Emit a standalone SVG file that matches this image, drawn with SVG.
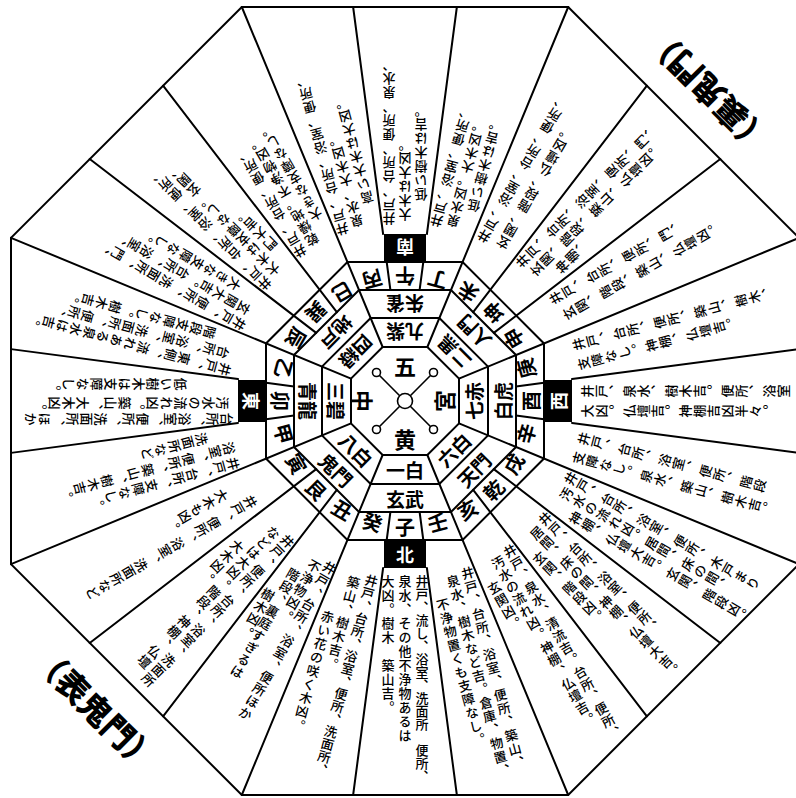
<svg xmlns="http://www.w3.org/2000/svg" width="796" height="798" viewBox="0 0 796 798">
<style>
.ln{stroke:#000;stroke-width:2;fill:none;stroke-linecap:round}
.thin{stroke:#000;stroke-width:1.6;fill:none}
.lb{font-family:"Noto Sans CJK JP","Noto Sans CJK SC",sans-serif;font-weight:bold;font-size:19px;text-anchor:middle;dominant-baseline:central;fill:#000}
.mt{font-size:20px}
.bx{fill:#000}
.wt{fill:#fff;font-size:18px}
.vt{font-family:"Noto Sans CJK JP","Noto Sans CJK SC",sans-serif;font-weight:500;font-size:13px;writing-mode:vertical-rl;fill:#000;letter-spacing:1px}
.tight{letter-spacing:0}
.hd{font-family:"Noto Sans CJK JP","Noto Sans CJK SC",sans-serif;font-weight:900;font-size:32px;text-anchor:middle;dominant-baseline:central;fill:#000}
</style>
<rect width="796" height="798" fill="#fff"/>
<g id="connectors" transform="translate(405,401)">
<polygon class="ln" points="-163.2,-394 163.2,-394 394,-163.2 394,163.2 163.2,394 -163.2,394 -394,163.2 -394,-163.2"/>
<polygon class="ln" points="-57.58,-139 57.58,-139 139,-57.58 139,57.58 57.58,139 -57.58,139 -139,57.58 -139,-57.58"/>
<polygon class="ln" points="-45.98,-111 45.98,-111 111,-45.98 111,45.98 45.98,111 -45.98,111 -111,45.98 -111,-45.98"/>
<polygon class="ln" points="-34.38,-83 34.38,-83 83,-34.38 83,34.38 34.38,83 -34.38,83 -83,34.38 -83,-34.38"/>
<polygon class="ln" points="-22.37,-54 22.37,-54 54,-22.37 54,22.37 22.37,54 -22.37,54 -54,22.37 -54,-22.37"/>
<path class="ln" d="M-22.37,-54L-163.2,-394M22.37,-54L163.2,-394M54,-22.37L394,-163.2M54,22.37L394,163.2M22.37,54L163.2,394M-22.37,54L-163.2,394M-54,22.37L-394,163.2M-54,-22.37L-394,-163.2"/>
<g transform="rotate(0)"><path class="ln" d="M14.61,111L18.3,139M21.9,167L51.87,394M-14.61,111L-18.3,139M-21.9,167L-51.87,394"/></g>
<g transform="rotate(90)"><path class="ln" d="M14.61,111L18.3,139M21.9,167L51.87,394M-14.61,111L-18.3,139M-21.9,167L-51.87,394"/></g>
<g transform="rotate(180)"><path class="ln" d="M14.61,111L18.3,139M21.9,167L51.87,394M-14.61,111L-18.3,139M-21.9,167L-51.87,394"/></g>
<g transform="rotate(270)"><path class="ln" d="M14.61,111L18.3,139M21.9,167L51.87,394M-14.61,111L-18.3,139M-21.9,167L-51.87,394"/></g>
<g transform="rotate(45)"><path class="ln" d="M14.61,111L51.87,394M-14.61,111L-51.87,394"/></g>
<g transform="rotate(135)"><path class="ln" d="M14.61,111L51.87,394M-14.61,111L-51.87,394"/></g>
<g transform="rotate(225)"><path class="ln" d="M14.61,111L51.87,394M-14.61,111L-51.87,394"/></g>
<g transform="rotate(315)"><path class="ln" d="M14.61,111L51.87,394M-14.61,111L-51.87,394"/></g>
</g>
<g id="center" transform="translate(405,401)">
<circle class="thin" r="7.5"/>
<circle class="thin" cx="-28.5" cy="-28.5" r="4"/><circle class="thin" cx="28.5" cy="-28.5" r="4"/>
<circle class="thin" cx="-28.5" cy="28.5" r="4"/><circle class="thin" cx="28.5" cy="28.5" r="4"/>
<path class="thin" d="M-5.3,-5.3L-25.7,-25.7M5.3,-5.3L25.7,-25.7M-5.3,5.3L-25.7,25.7M5.3,5.3L25.7,25.7"/>
<text class="lb" style="font-size:22px" x="0" y="-36">五</text>
<text class="lb" style="font-size:22px" x="0" y="37">黄</text>
<text class="lb" style="font-size:22px" transform="translate(-41,0) rotate(90)">中</text>
<text class="lb" style="font-size:22px" transform="translate(38,0) rotate(-90)">宮</text>
</g>
<g id="kyusei" transform="translate(405,401)">
<text class="lb" transform="rotate(0) translate(0,68.5)">一白</text>
<text class="lb" transform="rotate(45) translate(0,68.5)">八白</text>
<text class="lb" transform="rotate(90) translate(0,68.5)">三碧</text>
<text class="lb" transform="rotate(135) translate(0,68.5)">四緑</text>
<text class="lb" transform="rotate(180) translate(0,68.5)">九紫</text>
<text class="lb" transform="rotate(225) translate(0,68.5)">二黒</text>
<text class="lb" transform="rotate(270) translate(0,68.5)">七赤</text>
<text class="lb" transform="rotate(315) translate(0,68.5)">六白</text>
</g>
<g id="shin" transform="translate(405,401)">
<text class="lb" transform="rotate(0) translate(0,97)">玄武</text>
<text class="lb" transform="rotate(45) translate(0,97)">鬼門</text>
<text class="lb" transform="rotate(90) translate(0,97)">青龍</text>
<text class="lb" transform="rotate(135) translate(0,97)">地戸</text>
<text class="lb" transform="rotate(180) translate(0,97)">朱雀</text>
<text class="lb" transform="rotate(225) translate(0,97)">人門</text>
<text class="lb" transform="rotate(270) translate(0,97)">白虎</text>
<text class="lb" transform="rotate(315) translate(0,97)">天門</text>
</g>
<g id="mountains" transform="translate(405,401)">
<text class="lb mt" transform="rotate(0) translate(0,125)">子</text>
<text class="lb mt" transform="rotate(15) translate(0,125)">癸</text>
<text class="lb mt" transform="rotate(30) translate(0,125)">丑</text>
<text class="lb mt" transform="rotate(45) translate(0,125)">艮</text>
<text class="lb mt" transform="rotate(60) translate(0,125)">寅</text>
<text class="lb mt" transform="rotate(75) translate(0,125)">甲</text>
<text class="lb mt" transform="rotate(90) translate(0,125)">卯</text>
<text class="lb mt" transform="rotate(105) translate(0,125)">乙</text>
<text class="lb mt" transform="rotate(120) translate(0,125)">辰</text>
<text class="lb mt" transform="rotate(135) translate(0,125)">巽</text>
<text class="lb mt" transform="rotate(150) translate(0,125)">巳</text>
<text class="lb mt" transform="rotate(165) translate(0,125)">丙</text>
<text class="lb mt" transform="rotate(180) translate(0,125)">午</text>
<text class="lb mt" transform="rotate(195) translate(0,125)">丁</text>
<text class="lb mt" transform="rotate(210) translate(0,125)">未</text>
<text class="lb mt" transform="rotate(225) translate(0,125)">坤</text>
<text class="lb mt" transform="rotate(240) translate(0,125)">申</text>
<text class="lb mt" transform="rotate(255) translate(0,125)">庚</text>
<text class="lb mt" transform="rotate(270) translate(0,125)">酉</text>
<text class="lb mt" transform="rotate(285) translate(0,125)">辛</text>
<text class="lb mt" transform="rotate(300) translate(0,125)">戌</text>
<text class="lb mt" transform="rotate(315) translate(0,125)">乾</text>
<text class="lb mt" transform="rotate(330) translate(0,125)">亥</text>
<text class="lb mt" transform="rotate(345) translate(0,125)">壬</text>
</g>
<g id="dir-kita" transform="translate(405,401) rotate(0)"><rect class="bx" x="-21" y="139" width="42" height="28"/><text class="lb wt" x="0" y="153">北</text></g>
<g id="dir-higashi" transform="translate(405,401) rotate(90)"><rect class="bx" x="-21" y="139" width="42" height="28"/><text class="lb wt" x="0" y="153">東</text></g>
<g id="dir-minami" transform="translate(405,401) rotate(180)"><rect class="bx" x="-21" y="139" width="42" height="28"/><text class="lb wt" x="0" y="153">南</text></g>
<g id="dir-nishi" transform="translate(405,401) rotate(270)"><rect class="bx" x="-21" y="139" width="42" height="28"/><text class="lb wt" x="0" y="153">西</text></g>

<g id="s-ne" transform="translate(405,401) rotate(0)">
<text class="vt tight" x="17" y="174">井戸、流し、浴室、洗面所　便所、</text>
<text class="vt" x="0" y="174">泉水、その他不浄物あるは</text>
<text class="vt" x="-17" y="174">大凶。樹木　築山吉。</text>
</g>
<g id="s-mizunoto" transform="translate(405,401) rotate(15)">
<text class="vt tight" x="14" y="176">井戸、台所、浴室、便所、洗面所、</text>
<text class="vt" x="-3" y="182">築山、樹木吉。</text>
<text class="vt" x="-19" y="222">赤い花の咲く木凶。</text>
</g>
<g id="s-ushi" transform="translate(405,401) rotate(30)">
<text class="vt" x="18" y="176">井戸、台所、浴室、便所ほか</text>
<text class="vt" x="4" y="182">不浄物凶。</text>
<text class="vt" x="-10" y="200">階段、裏庭すぎるは</text>
<text class="vt" x="-22" y="230">樹木凶。</text>
</g>
<g id="s-ushitora" transform="translate(405,401) rotate(45)">
<text class="vt" x="16" y="176">井戸、便所、台所、浴室、洗面所</text>
<text class="vt" x="0" y="180">などは大凶。階段、神棚、仏壇</text>
<text class="vt" x="-16" y="215">大木凶。</text>
</g>
<g id="s-tora" transform="translate(405,401) rotate(60)">
<text class="vt" x="10" y="178">井戸、便所、浴室、洗面所など</text>
<text class="vt" x="-10" y="200">大木も凶。</text>
</g>
<g id="s-kinoe" transform="translate(405,401) rotate(75)">
<text class="vt" x="16" y="176">井戸、台所、支障なし。</text>
<text class="vt" x="0" y="176">浴室、便所、築山、樹木吉。</text>
<text class="vt" x="-16" y="200">洗面所など</text>
</g>
<g id="s-u" transform="translate(405,401) rotate(90)">
<text class="vt" x="18" y="172">台所、浴室、便所、洗面所、ほか</text>
<text class="vt" x="2" y="176">汚水の流れ凶。築山、大木凶。</text>
<text class="vt" x="-17" y="218">低い樹木は支障なし。</text>
</g>
<g id="s-kinoto" transform="translate(405,401) rotate(105)">
<text class="vt" x="16" y="176">井戸、東側、流れある泉水は吉。</text>
<text class="vt" x="0" y="182">台所、浴室、洗面所、便所、</text>
<text class="vt" x="-16" y="200">階段支障なし。樹木吉。</text>
</g>
<g id="s-tatsu" transform="translate(405,401) rotate(120)">
<text class="vt" x="16" y="176">井戸、便所、洗面所、門、</text>
<text class="vt" x="0" y="180">玄関大吉。台所、浴室、</text>
<text class="vt" x="-16" y="200">大きな支障なし。</text>
</g>
<g id="s-tatsumi" transform="translate(405,401) rotate(135)">
<text class="vt" x="16" y="176">井戸、台所、浴室、便所、</text>
<text class="vt" x="0" y="180">大木は支障なし。玄関、</text>
<text class="vt" x="-16" y="200">門大吉。</text>
</g>
<g id="s-mi" transform="translate(405,401) rotate(150)">
<text class="vt" x="16" y="176">井戸、台所、便所、</text>
<text class="vt" x="0" y="180">乾燥地。不浄物凶。</text>
<text class="vt" x="-16" y="200">大きな支障なし。</text>
</g>
<g id="s-hinoe" transform="translate(405,401) rotate(165)">
<text class="vt" x="16" y="176">井戸、台所、浴室、便所、</text>
<text class="vt" x="0" y="180">泉水、大木凶。</text>
<text class="vt" x="-16" y="200">高い大木は大凶。</text>
</g>
<g id="s-uma" transform="translate(405,401) rotate(180)">
<text class="vt" x="16" y="176">井戸、台所、便所、泉水、</text>
<text class="vt" x="0" y="180">大木は大凶。</text>
<text class="vt" x="-16" y="200">低い樹木は吉。</text>
</g>
<g id="s-hinoto" transform="translate(405,401) rotate(195)">
<text class="vt" x="16" y="176">井戸、浴室、便所、</text>
<text class="vt" x="0" y="180">泉水凶。大木凶。</text>
<text class="vt" x="-16" y="200">低い樹木は吉。</text>
</g>
<g id="s-hitsuji" transform="translate(405,401) rotate(210)">
<text class="vt" x="14" y="176">井戸、浴室、台所、便所、</text>
<text class="vt" x="-6" y="180">玄関、階段、仏壇凶。</text>
</g>
<g id="s-hitsujisaru" transform="translate(405,401) rotate(225)">
<text class="vt" x="16" y="176">井戸、台所、浴室、便所、門、</text>
<text class="vt" x="0" y="180">玄関、階段、築山、仏壇凶。</text>
<text class="vt" x="-16" y="200">神棚、</text>
</g>
<g id="s-saru" transform="translate(405,401) rotate(240)">
<text class="vt" x="14" y="176">井戸、台所、便所、門、</text>
<text class="vt" x="-6" y="180">玄関、階段、築山、仏壇凶。</text>
</g>
<g id="s-kanoe" transform="translate(405,401) rotate(255)">
<text class="vt" x="10" y="176">井戸、台所、便所、築山、樹木、</text>
<text class="vt" x="-10" y="176">支障なし。神棚、仏壇吉。</text>
</g>
<g id="s-tori" transform="translate(405,401) rotate(270)">
<text class="vt" x="10" y="176">井戸、泉水、樹木吉。便所、浴室</text>
<text class="vt" x="-10" y="176">大凶。仏壇吉。神棚吉凶半々。</text>
</g>
<g id="s-kanoto" transform="translate(405,401) rotate(285)">
<text class="vt" x="10" y="176">井戸、台所、浴室、便所、階段</text>
<text class="vt" x="-10" y="176">支障なし。泉水、築山、樹木吉。</text>
</g>
<g id="s-inu" transform="translate(405,401) rotate(300)">
<text class="vt" x="16" y="176">井戸、台所、浴室、便所、木戸まり</text>
<text class="vt" x="0" y="180">汚水の流れ凶。居間、床の間、</text>
<text class="vt" x="-16" y="200">神棚、仏壇大吉。玄関、階段凶。</text>
</g>
<g id="s-inui" transform="translate(405,401) rotate(315)">
<text class="vt" x="16" y="176">井戸、台所、浴室、便所、</text>
<text class="vt" x="0" y="180">居間、床の間、神棚、仏壇大吉。</text>
<text class="vt" x="-16" y="200">玄関、階段凶。</text>
</g>
<g id="s-i" transform="translate(405,401) rotate(330)">
<text class="vt" x="16" y="176">井戸、泉水、清流吉。台所、便所、</text>
<text class="vt" x="0" y="180">汚水の流れ凶。神棚、仏壇吉。</text>
<text class="vt" x="-16" y="200">玄関凶。</text>
</g>
<g id="s-mizunoe" transform="translate(405,401) rotate(345)">
<text class="vt" x="16" y="176">井戸、台所、浴室、便所、築山、</text>
<text class="vt" x="0" y="180">泉水、樹木など吉。倉庫、物置、</text>
<text class="vt" x="-16" y="200">不浄物置くも支障なし。</text>
</g>
<g id="ura-kimon" transform="translate(707,92) rotate(225)"><text class="hd">（裏鬼門）</text></g>
<g id="omote-kimon" transform="translate(97,708) rotate(45)"><text class="hd">（表鬼門）</text></g>
</svg>
